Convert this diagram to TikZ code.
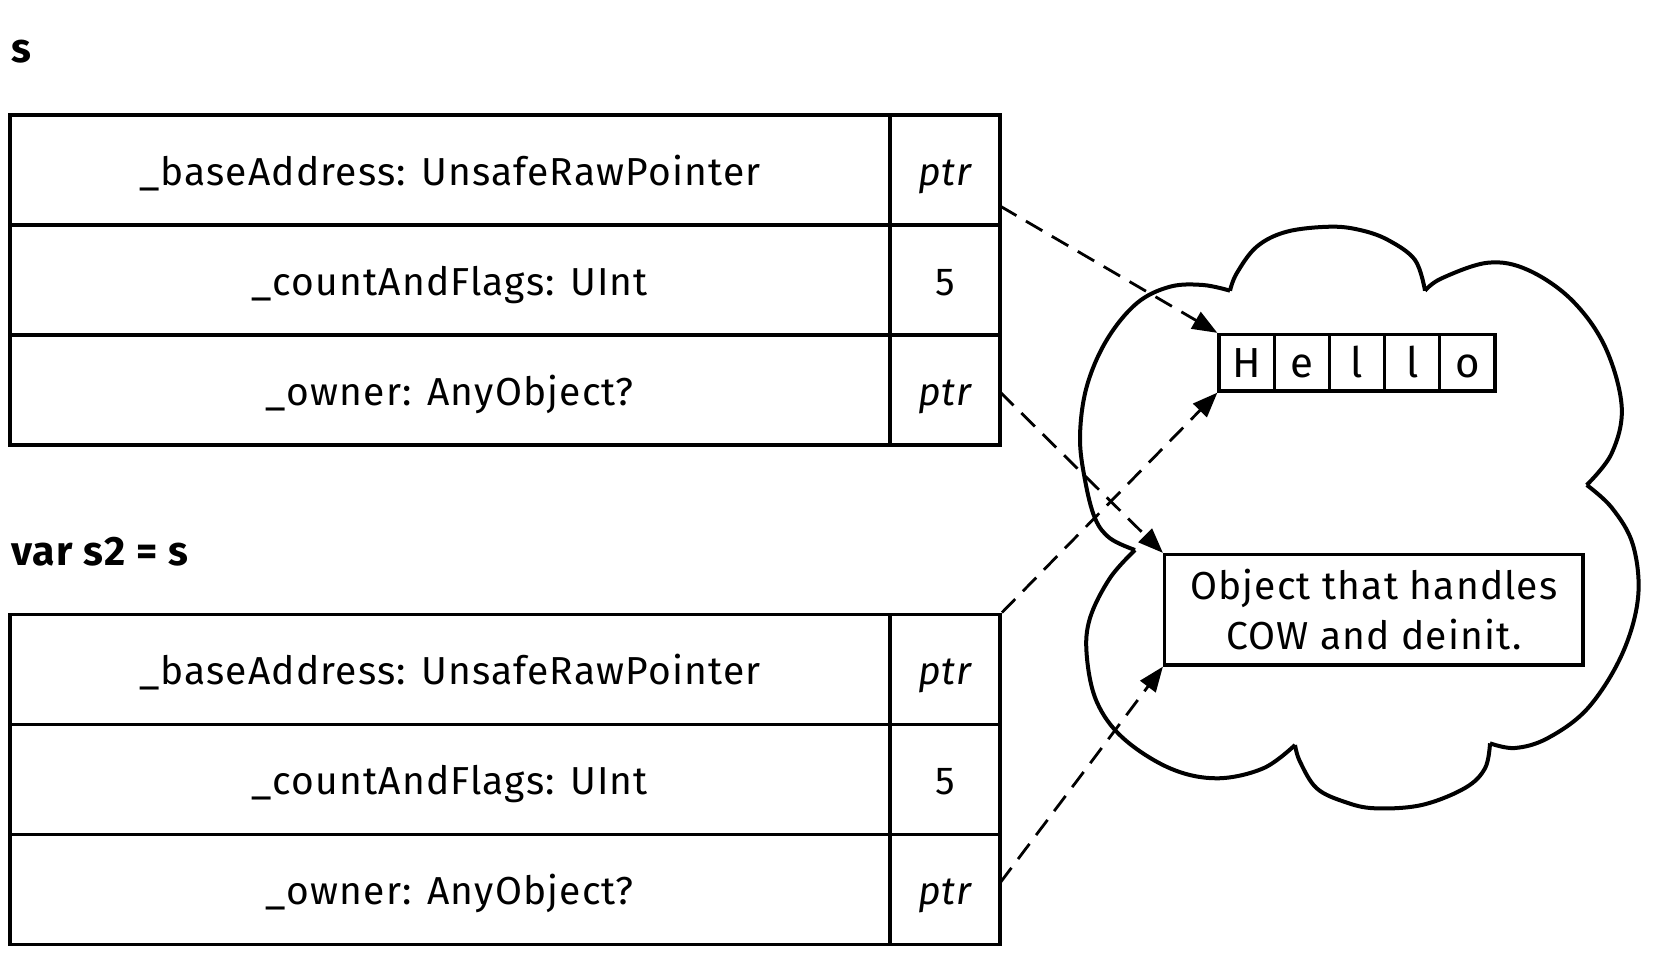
\documentclass[tikz,border=0pt]{standalone}
\usepackage{fontspec}
\setmainfont{Fira Sans}[LetterSpace=3]
\usetikzlibrary{arrows.meta}
\begin{document}
\begin{tikzpicture}[x=1pt,y=-1pt,
  tfont/.style={font=\fontsize{39pt}{46pt}\selectfont},
  lcell/.style={draw, line width=3.8pt, inner sep=0pt, minimum width=880.3pt, minimum height=110pt, text height=30pt, text depth=0pt, tfont},
  vcell/.style={draw, line width=3.8pt, inner sep=0pt, minimum width=110pt, minimum height=110pt, text height=30pt, text depth=0pt, tfont},
  hcell/.style={draw, line width=3.3pt, inner sep=0pt, minimum width=55.2pt, minimum height=56.5pt, text height=30pt, text depth=0pt, font=\fontsize{42pt}{50pt}\selectfont},
  objbox/.style={draw, line width=3.3pt, inner sep=0pt, minimum width=418.5pt, minimum height=110.5pt, align=center, font=\fontsize{39pt}{50pt}\selectfont},
  lbl/.style={inner sep=0pt, anchor=base west, font=\fontsize{41pt}{48pt}\selectfont\bfseries},
  ptrarrow/.style={line width=2.8pt, dash pattern=on 19pt off 11pt, -{Triangle[length=25pt,width=19pt]}},
  cloudline/.style={line width=4pt, line join=round}
]
\useasboundingbox (0,0) rectangle (1670,955);

% labels
\node[lbl] (ls) at (11,63) {s};
\node[lbl] (ls2) at (11,565) {var s2 = s};

% table s
\node[lcell] (a1) at (449.85,170) {\_baseAddress: UnsafeRawPointer};
\node[vcell] (b1) at (945,170) {\itshape ptr};
\node[lcell] (a2) at (449.85,280) {\_countAndFlags: UInt};
\node[vcell] (b2) at (945,280) {5};
\node[lcell] (a3) at (449.85,390) {\_owner: AnyObject?};
\node[vcell] (b3) at (945,390) {\itshape ptr};

% table s2
\node[lcell] (c1) at (449.85,669.5) {\_baseAddress: UnsafeRawPointer};
\node[vcell] (d1) at (945,669.5) {\itshape ptr};
\node[lcell] (c2) at (449.85,779.5) {\_countAndFlags: UInt};
\node[vcell] (d2) at (945,779.5) {5};
\node[lcell] (c3) at (449.85,889.5) {\_owner: AnyObject?};
\node[vcell] (d3) at (945,889.5) {\itshape ptr};

% cloud
\draw[cloudline] plot[smooth, tension=0.6] coordinates {(1230,290.7) (1236.7,273.3) (1256.7,246.7) (1286.7,231.7) (1330,226.7) (1360,230) (1388,240) (1415,260) (1425,290.7)};
\draw[cloudline] plot[smooth, tension=0.6] coordinates {(1425,290.7) (1441.7,278.3) (1488,262.7) (1528,270) (1571.7,300) (1605,346.7) (1621.7,406.7) (1611.7,453.3) (1586.7,485)};
\draw[cloudline] plot[smooth, tension=0.6] coordinates {(1586.7,485) (1612,508) (1633,545) (1638,598) (1621.7,655) (1588,708) (1548,738) (1515,748) (1490,743.3)};
\draw[cloudline] plot[smooth, tension=0.6] coordinates {(1490,743.3) (1485,768.3) (1465,788) (1421.7,805) (1375,808.3) (1345,802) (1316.7,788.3) (1300,761.7) (1295,745)};
\draw[cloudline] plot[smooth, tension=0.6] coordinates {(1295,745) (1263.3,768.3) (1216.7,778.3) (1170,768.3) (1123.3,738.3) (1096.7,701.7) (1086.7,655) (1090,618) (1110,578) (1135,550)};
\draw[cloudline] plot[smooth, tension=0.6] coordinates {(1135,550) (1110,538.3) (1095,518.3) (1085,480) (1080,436.7) (1086.7,386.7) (1106.7,340) (1136.7,303.3) (1170,286.7) (1203,285) (1230,290.7)};

% Hello
\node[hcell] (h1) at (1246.6,362.75) {H};
\node[hcell] (h2) at (1301.8,362.75) {e};
\node[hcell] (h3) at (1357,362.75) {l};
\node[hcell] (h4) at (1412.2,362.75) {l};
\node[hcell] (h5) at (1467.4,362.75) {o};

% object
\node[objbox] (obj) at (1373.8,609.75) {Object that handles\\COW and deinit.};

% arrow start points
\coordinate (s1) at (1000,206);
\coordinate (s2) at (1000,392);
\coordinate (s4) at (1000,883);

\draw[ptrarrow] (s1) -- (h1.north west);
\draw[ptrarrow] (s2) -- (obj.north west);
\draw[ptrarrow] (d1.north east) -- (h1.south west);
\draw[ptrarrow] (s4) -- (obj.south west);
\end{tikzpicture}
\end{document}
